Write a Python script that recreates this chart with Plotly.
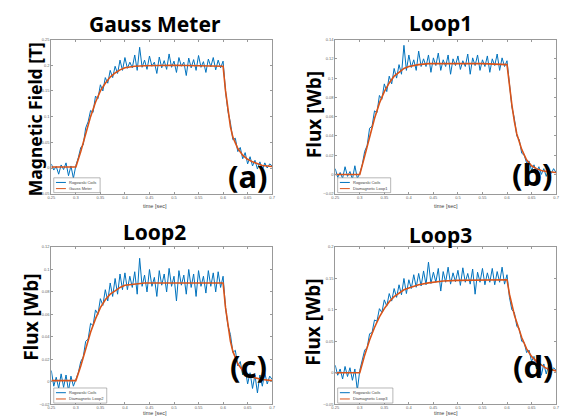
import plotly.graph_objects as go

# ---------------- data ----------------
TIME = [
    0.250, 0.255, 0.260, 0.265, 0.270, 0.275, 0.280, 0.285, 0.290, 0.295,
    0.300, 0.305, 0.310, 0.315, 0.320, 0.325, 0.330, 0.335, 0.340, 0.345,
    0.350, 0.355, 0.360, 0.365, 0.370, 0.375, 0.380, 0.385, 0.390, 0.395,
    0.400, 0.405, 0.410, 0.415, 0.420, 0.425, 0.430, 0.435, 0.440, 0.445,
    0.450, 0.455, 0.460, 0.465, 0.470, 0.475, 0.480, 0.485, 0.490, 0.495,
    0.500, 0.505, 0.510, 0.515, 0.520, 0.525, 0.530, 0.535, 0.540, 0.545,
    0.550, 0.555, 0.560, 0.565, 0.570, 0.575, 0.580, 0.585, 0.590, 0.595,
    0.600, 0.605, 0.610, 0.615, 0.620, 0.625, 0.630, 0.635, 0.640, 0.645,
    0.650, 0.655, 0.660, 0.665, 0.670, 0.675, 0.680, 0.685, 0.690, 0.695,
    0.700,
]

ROGOWSKI_A = [
    0.008, -0.004, 0.003, -0.012, 0.006, -0.003, 0.010, -0.015, 0.004, -0.020,
    0.005, 0.020, 0.040, 0.045, 0.078, 0.090, 0.112, 0.108, 0.140, 0.135,
    0.162, 0.150, 0.176, 0.165, 0.190, 0.176, 0.198, 0.184, 0.210, 0.190,
    0.215, 0.194, 0.206, 0.195, 0.220, 0.190, 0.235, 0.196, 0.210, 0.192,
    0.218, 0.198, 0.206, 0.184, 0.216, 0.195, 0.209, 0.192, 0.222, 0.196,
    0.208, 0.186, 0.215, 0.198, 0.206, 0.180, 0.214, 0.195, 0.211, 0.190,
    0.219, 0.196, 0.207, 0.186, 0.212, 0.197, 0.215, 0.191, 0.210, 0.195,
    0.208, 0.150, 0.110, 0.088, 0.055, 0.058, 0.032, 0.040, 0.018, 0.030,
    0.008, 0.022, 0.004, 0.015, -0.002, 0.012, -0.004, 0.010, 0.000, 0.008,
    0.004,
]
ROGOWSKI_B = [
    0.006, -0.003, 0.002, -0.004, 0.008, -0.002, 0.003, -0.005, 0.009, -0.004,
    0.001, 0.010, 0.024, 0.030, 0.048, 0.050, 0.066, 0.064, 0.082, 0.078,
    0.094, 0.086, 0.102, 0.094, 0.110, 0.100, 0.114, 0.104, 0.134, 0.108,
    0.124, 0.111, 0.119, 0.108, 0.128, 0.112, 0.120, 0.112, 0.124, 0.106,
    0.121, 0.113, 0.126, 0.108, 0.119, 0.112, 0.124, 0.104, 0.120, 0.113,
    0.123, 0.109, 0.118, 0.112, 0.125, 0.104, 0.121, 0.113, 0.124, 0.108,
    0.119, 0.112, 0.123, 0.106, 0.120, 0.113, 0.125, 0.108, 0.121, 0.112,
    0.118, 0.090, 0.070, 0.058, 0.040, 0.036, 0.022, 0.020, 0.012, 0.014,
    0.004, 0.010, 0.002, 0.008, 0.000, 0.006, -0.002, 0.005, 0.001, 0.006,
    0.002,
]
ROGOWSKI_C = [
    0.010, -0.004, 0.004, -0.006, 0.007, -0.005, 0.006, -0.008, 0.005, -0.004,
    0.002, 0.008, 0.018, 0.022, 0.036, 0.038, 0.052, 0.050, 0.064, 0.060,
    0.074, 0.068, 0.082, 0.072, 0.088, 0.076, 0.092, 0.078, 0.096, 0.082,
    0.097, 0.082, 0.094, 0.084, 0.098, 0.078, 0.110, 0.085, 0.095, 0.080,
    0.100, 0.085, 0.093, 0.076, 0.099, 0.086, 0.096, 0.080, 0.101, 0.085,
    0.094, 0.072, 0.099, 0.086, 0.095, 0.078, 0.100, 0.084, 0.096, 0.076,
    0.099, 0.085, 0.094, 0.079, 0.099, 0.085, 0.097, 0.080, 0.098, 0.084,
    0.094, 0.066, 0.050, 0.042, 0.026, 0.028, 0.014, 0.018, 0.006, 0.012,
    -0.002, 0.008, -0.006, 0.006, -0.010, 0.006, -0.004, 0.008, -0.002, 0.005,
    0.002,
]
ROGOWSKI_D = [
    0.012, -0.004, 0.006, -0.010, 0.010, -0.006, 0.008, -0.012, 0.006, -0.028,
    0.004, 0.018, 0.036, 0.040, 0.062, 0.064, 0.084, 0.082, 0.102, 0.096,
    0.116, 0.106, 0.126, 0.114, 0.134, 0.120, 0.140, 0.124, 0.150, 0.126,
    0.148, 0.134, 0.156, 0.136, 0.158, 0.138, 0.162, 0.140, 0.176, 0.142,
    0.160, 0.144, 0.166, 0.130, 0.161, 0.144, 0.168, 0.141, 0.159, 0.145,
    0.163, 0.139, 0.167, 0.144, 0.158, 0.141, 0.165, 0.125, 0.160, 0.144,
    0.166, 0.140, 0.159, 0.144, 0.166, 0.140, 0.161, 0.144, 0.168, 0.141,
    0.156, 0.120, 0.100, 0.096, 0.074, 0.070, 0.050, 0.048, 0.032, 0.036,
    0.018, 0.026, 0.006, 0.020, -0.004, 0.014, -0.002, 0.012, 0.002, 0.008,
    0.004,
]

REF_TIME = [0.25, 0.26, 0.27, 0.28, 0.29, 0.30, 0.31, 0.32, 0.33, 0.34, 0.35,
            0.36, 0.37, 0.38, 0.39, 0.40, 0.42, 0.44, 0.47, 0.50, 0.55, 0.60,
            0.605, 0.61, 0.615, 0.62, 0.63, 0.64, 0.65, 0.66, 0.67, 0.68, 0.70]
GAUSS_METER = [0.002, 0.002, 0.002, 0.002, 0.002, 0.002, 0.032, 0.068, 0.100, 0.128, 0.150,
               0.165, 0.177, 0.185, 0.191, 0.195, 0.198, 0.199, 0.200, 0.200, 0.199, 0.198,
               0.150, 0.110, 0.080, 0.060, 0.038, 0.025, 0.017, 0.012, 0.008, 0.005, 0.003]
LOOP1 = [0.0, 0.0, 0.0, 0.0, 0.0, 0.0, 0.019, 0.040, 0.058, 0.074, 0.086,
         0.095, 0.102, 0.106, 0.110, 0.112, 0.114, 0.115, 0.115, 0.115, 0.115, 0.114,
         0.090, 0.072, 0.055, 0.042, 0.026, 0.015, 0.009, 0.006, 0.004, 0.003, 0.002]
LOOP2 = [0.001, 0.001, 0.001, 0.001, 0.001, 0.001, 0.014, 0.030, 0.044, 0.056, 0.066,
         0.073, 0.078, 0.081, 0.084, 0.086, 0.087, 0.088, 0.088, 0.088, 0.088, 0.088,
         0.066, 0.050, 0.036, 0.027, 0.016, 0.010, 0.006, 0.004, 0.003, 0.002, 0.001]
LOOP3 = [0.0, 0.0, 0.0, 0.0, 0.0, 0.0, 0.028, 0.052, 0.072, 0.089, 0.102,
         0.113, 0.121, 0.127, 0.132, 0.135, 0.140, 0.143, 0.146, 0.147, 0.148, 0.148,
         0.125, 0.106, 0.092, 0.080, 0.056, 0.038, 0.026, 0.018, 0.012, 0.007, 0.003]

TITLES = ["Gauss Meter", "Loop1", "Loop2", "Loop3"]
YLABELS = ["Magnetic Field [T]", "Flux [Wb]", "Flux [Wb]", "Flux [Wb]"]
PANEL_TAGS = ["(a)", "(b)", "(c)", "(d)"]
LEGEND_NAMES = [("Rogowski Coils", "Gauss Meter"),
                ("Rogowski Coils", "Diamagnetic Loop1"),
                ("Rogowski Coils", "Diamagnetic Loop2"),
                ("Rogowski Coils", "Diamagnetic Loop3")]
Y_RANGES = [(-0.05, 0.25), (-0.02, 0.14), (-0.02, 0.12), (-0.05, 0.20)]
Y_DTICK = [0.05, 0.02, 0.02, 0.05]
X_RANGE = (0.25, 0.70)
X_DTICK = 0.05

BLUE = "#0072BD"
ORANGE = "#D95319"
FONT = "Noto Sans"

# ---------------- figure ----------------
W, H = 565, 420
XDOM = [(48 / W, 272 / W), (336 / W, 560 / W)]
YDOM = [((H - 193) / H, (H - 37) / H), ((H - 406) / H, (H - 247) / H)]

rog = [ROGOWSKI_A, ROGOWSKI_B, ROGOWSKI_C, ROGOWSKI_D]
refs = [GAUSS_METER, LOOP1, LOOP2, LOOP3]

fig = go.Figure()
layout = dict(width=W, height=H, margin=dict(l=0, r=0, t=0, b=0),
              paper_bgcolor="white", plot_bgcolor="white", showlegend=False)

annotations = []
shapes = []

title_pos = [(153, 21), (443, 20), (153, 232), (443, 235)]
ylab_pos = [(31, 118), (314, 113), (28, 318), (314, 323)]
ylab_size = [17.5, 19, 19, 19]
tag_pos = [(248, 175), (536, 173), (248, 367), (537, 367)]
xlab_pos = [(153, 205), (448, 205), (153, 415), (448, 415)]
leg_w = [0.21, 0.24, 0.24, 0.25]

for i in range(4):
    n = i + 1
    suf = "" if n == 1 else str(n)
    col, row = i % 2, i // 2
    xa, ya = "x" + suf, "y" + suf
    fig.add_trace(go.Scatter(x=TIME, y=rog[i], mode="lines", xaxis=xa, yaxis=ya,
                             line=dict(color=BLUE, width=1), name=LEGEND_NAMES[i][0]))
    fig.add_trace(go.Scatter(x=REF_TIME, y=refs[i], mode="lines", xaxis=xa, yaxis=ya,
                             line=dict(color=ORANGE, width=1.6), name=LEGEND_NAMES[i][1]))
    axis_common = dict(showline=True, linecolor="#999999", linewidth=1, mirror="ticks",
                       ticks="inside", ticklen=2, tickcolor="#999999", showgrid=False,
                       zeroline=False, tickfont=dict(size=4, color="#666666", family="Liberation Sans"))
    layout["xaxis" + suf] = dict(domain=list(XDOM[col]), anchor=ya, range=list(X_RANGE),
                                 dtick=X_DTICK, tick0=0, ticklabelstandoff=-1, **axis_common)
    layout["yaxis" + suf] = dict(domain=list(YDOM[row]), anchor=xa, range=list(Y_RANGES[i]),
                                 dtick=Y_DTICK[i], tick0=0, **axis_common)

    tx, ty = title_pos[i]
    annotations.append(dict(text="<b>%s</b>" % TITLES[i], x=tx / W, y=1 - ty / H, xref="paper", yref="paper",
                            xanchor="center", yanchor="middle", showarrow=False,
                            font=dict(size=21, family=FONT, color="black")))
    lx, ly = ylab_pos[i]
    annotations.append(dict(text="<b>%s</b>" % YLABELS[i], x=lx / W, y=1 - ly / H, xref="paper", yref="paper",
                            xanchor="center", yanchor="middle", showarrow=False, textangle=-90,
                            font=dict(size=ylab_size[i], family=FONT, color="black")))
    gx, gy = tag_pos[i]
    annotations.append(dict(text="<b>%s</b>" % PANEL_TAGS[i], x=gx / W, y=1 - gy / H, xref="paper", yref="paper",
                            xanchor="center", yanchor="middle", showarrow=False,
                            font=dict(size=31, family=FONT, color="black")))
    bx, by = xlab_pos[i]
    annotations.append(dict(text="time [sec]", x=bx / W, y=1 - by / H, xref="paper", yref="paper",
                            xanchor="center", yanchor="middle", showarrow=False,
                            font=dict(size=5.5, family="Liberation Sans", color="#444444")))

    # legend box
    dx, dy = xa + " domain", ya + " domain"
    x0 = 0.011
    shapes.append(dict(type="rect", xref=dx, yref=dy, x0=x0, x1=x0 + leg_w[i], y0=0.007, y1=0.103,
                       fillcolor="white", line=dict(color="#888888", width=0.6), layer="above"))
    for k, (yy, c) in enumerate([(0.073, BLUE), (0.033, ORANGE)]):
        shapes.append(dict(type="line", xref=dx, yref=dy, x0=x0 + 0.01, x1=x0 + 0.055, y0=yy, y1=yy,
                           line=dict(color=c, width=1), layer="above"))
        annotations.append(dict(text=LEGEND_NAMES[i][k], xref=dx, yref=dy, x=x0 + 0.062, y=yy,
                                xanchor="left", yanchor="middle", showarrow=False,
                                font=dict(size=4, family="Liberation Sans", color="#444444")))

layout["annotations"] = annotations
layout["shapes"] = shapes
fig.update_layout(**layout)
fig.write_html("out.html", config={"displayModeBar": False},
               post_script="document.body.style.margin='0';")
